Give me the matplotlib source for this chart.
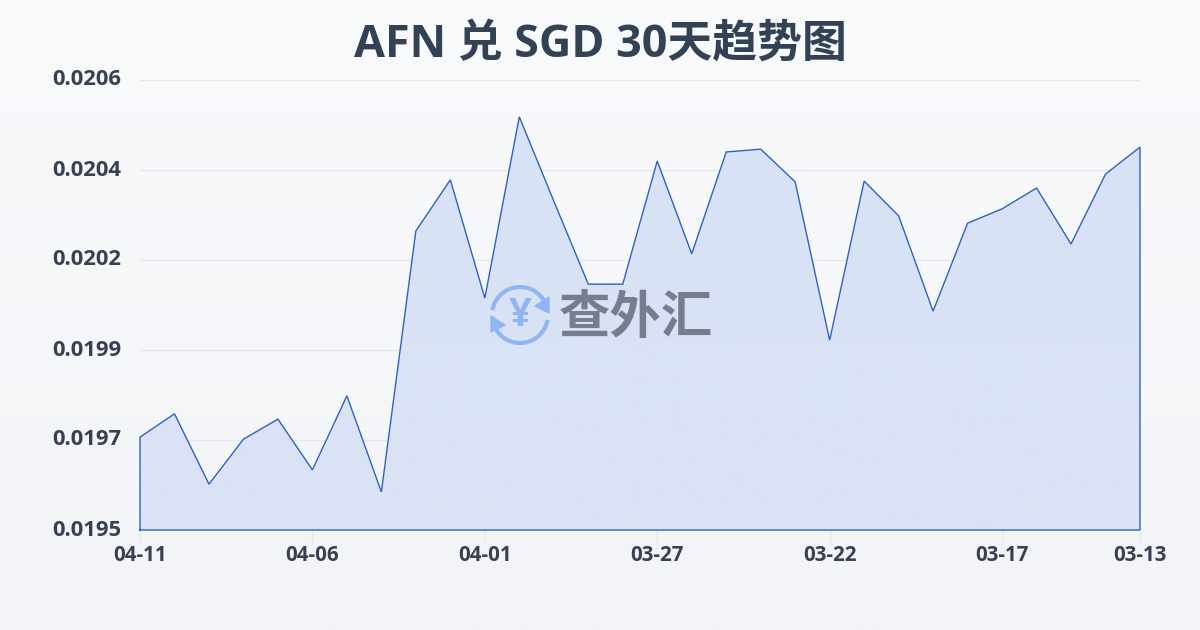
import numpy as np
import matplotlib
matplotlib.use("Agg")
import matplotlib.pyplot as plt
from matplotlib.patches import Arc, Polygon

plt.rcParams['font.family'] = ['Open Sans', 'Noto Sans CJK SC', 'DejaVu Sans']

title = "AFN 兑 SGD 30天趋势图"
values = [.019727, .019784, .019612, .019722, .019771, .019647, .019828, .019593,
          .020231, .020356, .020067, .020510, .020304, .020101, .020101, .020402,
          .020175, .020424, .020431, .020351, .019964, .020353, .020268, .020035,
          .020250, .020285, .020336, .020199, .020370, .020436]
x_labels = ["04-11", "04-06", "04-01", "03-27", "03-22", "03-17", "03-13"]
x_label_pos = [0, 5, 10, 15, 20, 25, 29]
y_min, y_max = 0.0195, 0.0206
y_labels = ["0.0195", "0.0197", "0.0199", "0.0202", "0.0204", "0.0206"]

W, H = 1200, 630
fig = plt.figure(figsize=(W / 100, H / 100), dpi=100)

bg = fig.add_axes([0, 0, 1, 1], zorder=0)
bg.axis("off")
grad = np.linspace(0, 1, 256)[:, None, None]
top, bot = np.array([248, 250, 252]) / 255, np.array([243, 244, 247]) / 255
bg.imshow(top + (bot - top) * grad, aspect="auto", extent=[0, 1, 0, 1], origin="upper")

ax = fig.add_axes([140 / W, 1 - 530 / H, 1000 / W, 450 / H], zorder=1)
ax.patch.set_alpha(0)
xs = np.arange(len(values))
ax.set_xlim(0, len(values) - 1)
ax.set_ylim(y_min, y_max)

yt = np.linspace(y_min, y_max, len(y_labels))
ax.set_yticks(yt)
ax.set_yticklabels(y_labels, fontsize=15.8, fontweight="bold", color="#374151", va="center")
ax.set_xticks(x_label_pos)
ax.set_xticklabels(x_labels, fontsize=14.8, fontweight="bold", color="#374151")
ax.tick_params(axis="y", length=0, pad=13.5)
ax.tick_params(axis="x", length=10, width=1, color="#e4e7eb", pad=0.5)
for s in ax.spines.values():
    s.set_visible(False)
ax.grid(axis="y", color="#e3e6eb", lw=0.9, zorder=1)
ax.set_axisbelow(True)

fill_colors = np.array([[[216, 226, 246]], [[219, 226, 245]]]) / 255
img = ax.imshow(fill_colors, extent=[0, len(values) - 1, y_min, y_max], aspect="auto",
                zorder=2, origin="upper", interpolation="bilinear")
clip = Polygon(np.column_stack([np.r_[xs, xs[-1], 0], np.r_[values, y_min, y_min]]), closed=True,
               transform=ax.transData)
img.set_clip_path(clip)
ax.set_xlim(0, len(values) - 1)
ax.set_ylim(y_min, y_max)
ax.plot(np.r_[0, xs, xs[-1], 0], np.r_[y_min, values, y_min, y_min], color="#2f62c4", lw=1.0,
        zorder=3, clip_on=False, solid_joinstyle="miter")

fig.text(600 / W, 1 - 45 / H, title, ha="center", va="center", fontsize=32.3, fontweight="bold", color="#334155")

# watermark
ov = fig.add_axes([0, 0, 1, 1], zorder=4)
ov.set_xlim(0, W)
ov.set_ylim(H, 0)
ov.axis("off")
blue = "#8fb5f5"
cx, cy = 520, 315
ov.add_patch(Arc((cx, cy), 56, 56, theta1=190, theta2=335, color=blue, lw=3.0))
ov.add_patch(Arc((cx, cy), 56, 56, theta1=10, theta2=155, color=blue, lw=3.0))
ov.add_patch(Polygon([[549, 297], [549, 313], [535, 306]], color=blue))
ov.add_patch(Polygon([[491, 316], [491, 332], [505, 325]], color=blue))
ov.text(cx, cy + 1, "¥", ha="center", va="center", fontsize=29, fontweight="bold", color=blue)
ov.text(636, 318, "查外汇", ha="center", va="center", fontsize=37, fontweight="bold", color="#757d8e",
        family=["Noto Sans CJK SC"])

fig.savefig("out.png", dpi=100)
